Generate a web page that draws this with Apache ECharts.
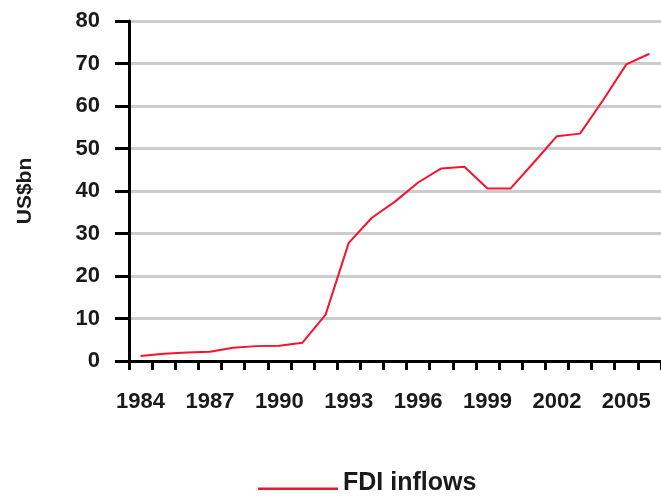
<!DOCTYPE html>
<html><head><meta charset="utf-8">
<script src="https://cdn.jsdelivr.net/npm/echarts@6/dist/echarts.min.js"></script>
<style>html,body{margin:0;padding:0;background:#fff}#c{width:661px;height:497px}</style>
</head><body><div id="c"></div>
<script>
var years = ['1984','1985','1986','1987','1988','1989','1990','1991','1992','1993','1994','1995','1996','1997','1998','1999','2000','2001','2002','2003','2004','2005','2006'];
var fdiInflows = [1.2,1.7,2.0,2.2,3.1,3.5,3.6,4.3,10.9,27.8,33.7,37.5,42.0,45.3,45.7,40.6,40.6,46.7,52.9,53.5,61.4,69.8,72.3];
var yTicks = [0,10,20,30,40,50,60,70,80];
var seriesName = 'FDI inflows';
var yTitle = 'US$bn';

var font = '"Liberation Sans", Arial, sans-serif';
var txt = '#1a1a1a';
var chart = echarts.init(document.getElementById('c'), null, {renderer:'canvas'});
chart.setOption({
  animation:false,
  backgroundColor:'#fff',
  grid:{left:129, right:-5, top:21, bottom:136, containLabel:false},
  legend:{
    data:[{name:seriesName, icon:'path://M0,0 L0.01,0 L0.01,0.01 Z M0,14 L80,14 L80,16.5 L0,16.5 Z M0,19.99 L0.01,20 L0,20 Z'}],
    left:253, top:466, itemWidth:80, itemHeight:20, itemGap:10,
    textStyle:{fontFamily:font, fontWeight:'bold', fontSize:25, color:txt}
  },
  xAxis:{
    type:'category', data:years, boundaryGap:true,
    axisLine:{lineStyle:{color:'#000', width:3}},
    axisTick:{show:true, inside:false, length:9, lineStyle:{color:'#000', width:3}, interval:0},
    axisLabel:{interval:2, margin:30, fontFamily:font, fontWeight:'bold', fontSize:22, color:txt},
    splitLine:{show:false}
  },
  yAxis:{
    type:'value', min:yTicks[0], max:yTicks[yTicks.length-1], interval:10,
    name:yTitle, nameLocation:'middle', nameRotate:90, nameGap:93,
    nameTextStyle:{fontFamily:font, fontWeight:'bold', fontSize:21, color:txt},
    axisLine:{show:true, lineStyle:{color:'#000', width:3}},
    axisTick:{show:true, length:14, lineStyle:{color:'#000', width:3}},
    axisLabel:{margin:29, fontFamily:font, fontWeight:'bold', fontSize:22, color:txt},
    splitLine:{show:true, lineStyle:{color:'#cccccc', width:3}}
  },
  series:[{
    name:seriesName, type:'line', data:fdiInflows,
    symbol:'none', lineStyle:{color:'#f5142d', width:2}, itemStyle:{color:'#f5142d'}
  }]
});
</script></body></html>
